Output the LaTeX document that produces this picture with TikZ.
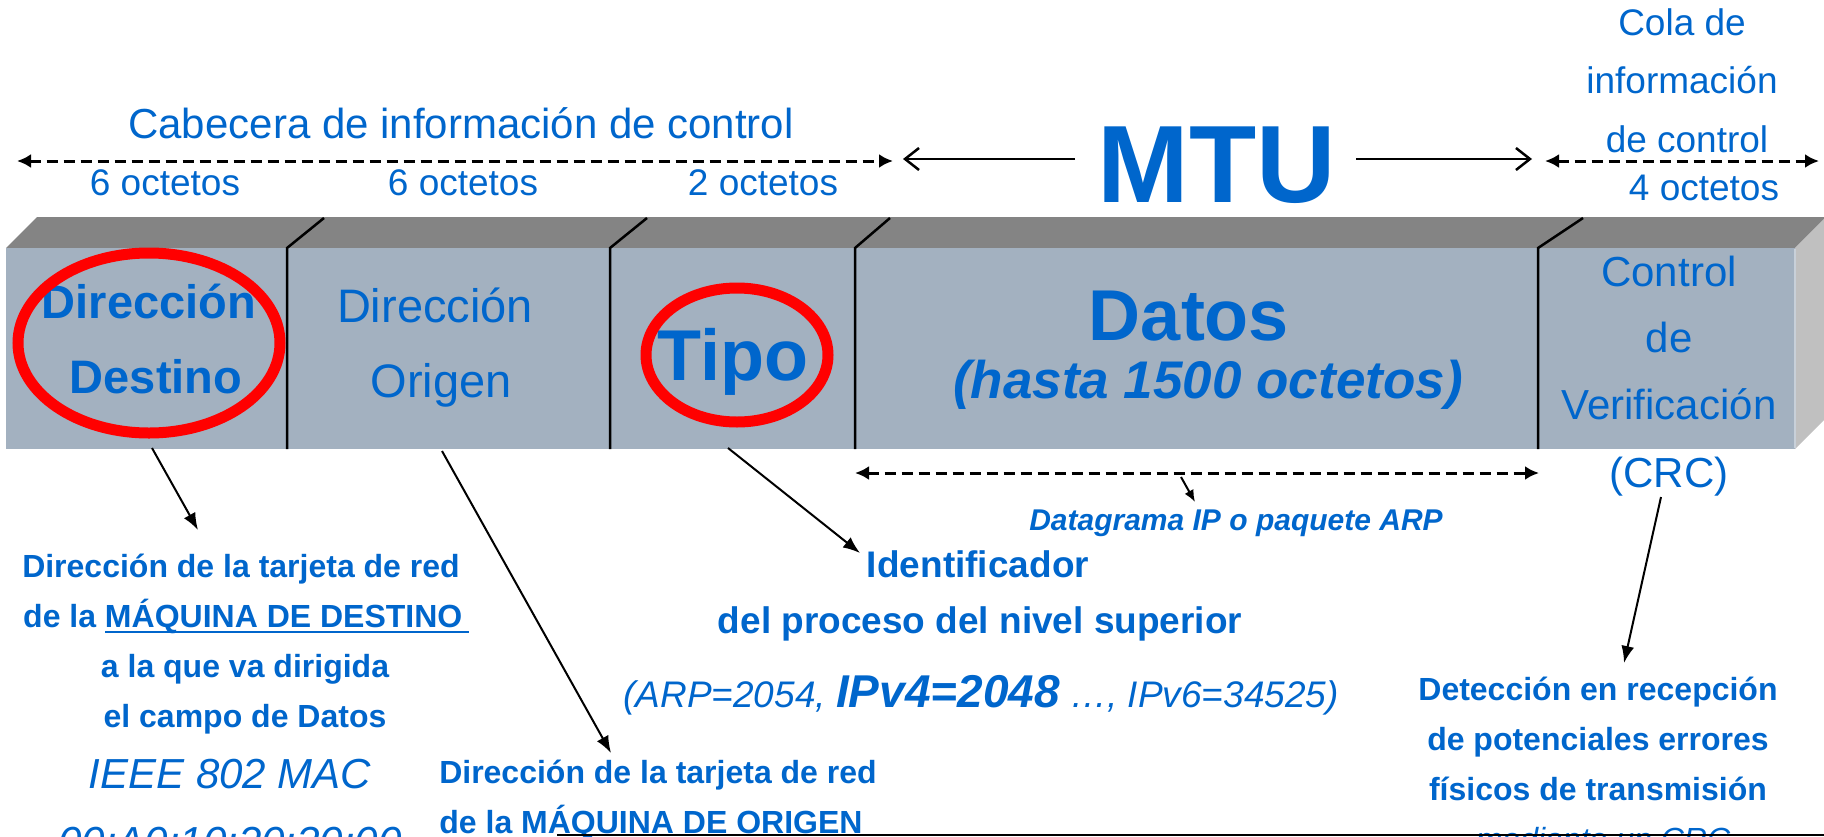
\documentclass[tikz,border=0pt]{standalone}
\usepackage{fontspec}
\setmainfont{Liberation Sans}
\usetikzlibrary{arrows.meta}
\definecolor{tblue}{HTML}{0066CC}
\definecolor{frontf}{HTML}{A3B1C0}
\definecolor{topf}{HTML}{848484}
\definecolor{sidef}{HTML}{C0C0C0}
\newcommand\fsz[1]{\fontsize{#1}{#1}\selectfont}
\begin{document}
\begin{tikzpicture}[x=1pt,y=-1pt,
  txt/.style={text=tblue, inner sep=0pt, anchor=base},
  divl/.style={line width=2.5pt, black},
  redring/.style={draw=red, line width=11pt},
  dasharrow/.style={line width=3pt, dash pattern=on 11pt off 6pt, {Latex[length=14pt,width=14pt]}-{Latex[length=14pt,width=14pt]}},
  ptr/.style={line width=2pt, -{Latex[length=17pt,width=13pt]}},
  mtuarr/.style={line width=2.5pt, -{Straight Barb[length=14pt,width=22pt]}}]
\useasboundingbox (0,0) rectangle (1824,836);
\clip (0,0) rectangle (1824,836);

% 3D bar
\fill[topf] (6,248) -- (37,217) -- (1826,217) -- (1795,248) -- cycle;
\fill[sidef] (1795,248) -- (1826,217) -- (1826,418) -- (1795,449) -- cycle;
\fill[frontf] (6,248) rectangle (1795,449);
\draw[line width=2pt, frontf!60!white] (1795,249) -- (1795,448);

% dividers
\draw[divl] (287,449) -- (287,248) -- (324,218);
\draw[divl] (610,449) -- (610,248) -- (647,218);
\draw[divl] (855,449) -- (855,248) -- (890,218);
\draw[divl] (1538,449) -- (1538,248) -- (1583,218);

% field texts
\node[txt, font=\fsz{47}\bfseries] (dd1) at (149,318) {Dirección};
\node[txt, font=\fsz{47}\bfseries] (dd2) at (156,393) {Destino};
\node[txt, font=\fsz{47}] (do1) at (435,322) {Dirección};
\node[txt, font=\fsz{47}] (do2) at (441,397) {Origen};
\node[txt, font=\fsz{72}\bfseries] (tipo) at (733,380) {Tipo};
\node[txt, font=\fsz{72}\bfseries] (datos) at (1189,340) {Datos};
\node[txt, font=\fsz{53}\bfseries\itshape] (hasta) at (1208,398) {(hasta 1500 octetos)};
\node[txt, font=\fsz{42}] (crc1) at (1669,286) {Control};
\node[txt, font=\fsz{42}] (crc2) at (1669,352) {de};
\node[txt, font=\fsz{42}] (crc3) at (1669,419) {Verificación};
\node[txt, font=\fsz{42}] (crc4) at (1669,487) {(CRC)};

% red rings
\draw[redring] (149,343) ellipse [x radius=131, y radius=90];
\draw[redring] (737,355) ellipse [x radius=91, y radius=67];

% top labels
\node[txt, font=\fsz{42}] (cab) at (461,138) {Cabecera de información de control};
\node[txt, font=\fsz{37}] (o1) at (165,195) {6 octetos};
\node[txt, font=\fsz{37}] (o2) at (463,195) {6 octetos};
\node[txt, font=\fsz{37}] (o3) at (763,195) {2 octetos};
\node[txt, font=\fsz{110}\bfseries] (mtu) at (1217,202) {MTU};
\node[txt, font=\fsz{37}] (cola1) at (1682,35) {Cola de};
\node[txt, font=\fsz{37}] (cola2) at (1682,93) {información};
\node[txt, font=\fsz{37}] (cola3) at (1687,152) {de control};
\node[txt, font=\fsz{37}] (o4) at (1704,200) {4 octetos};

\coordinate (cabL) at (17,161);
\coordinate (cabR) at (893,161);
\coordinate (colL) at (1545,161);
\coordinate (colR) at (1819,161);
\draw[dasharrow] (cabL) -- (cabR);
\draw[dasharrow] (colL) -- (colR);
\coordinate (mtuLs) at (1075,159);
\coordinate (mtuLe) at (903,159);
\coordinate (mtuRs) at (1356,159);
\coordinate (mtuRe) at (1532,159);
\draw[mtuarr] (mtuLs) -- (mtuLe);
\draw[mtuarr] (mtuRs) -- (mtuRe);

% datagrama
\coordinate (dgL) at (855,473);
\coordinate (dgR) at (1539,473);
\draw[dasharrow] (dgL) -- (dgR);
\coordinate (dgS) at (1181,477);
\coordinate (dgE) at (1195,502);
\draw[line width=2pt, -{Latex[length=12pt,width=10pt]}] (dgS) -- (dgE);
\node[txt, font=\fsz{30}\bfseries\itshape] (dgram) at (1236,530) {Datagrama IP o paquete ARP};

% destination block
\node[txt, font=\fsz{32}\bfseries] (dst1) at (241,577) {Dirección de la tarjeta de red};
\node[txt, font=\fsz{32}\bfseries, anchor=base west] (dst2) at (23,627) {de la MÁQUINA DE DESTINO};
\draw[tblue, line width=2pt] (105,632) -- (469,632);
\node[txt, font=\fsz{32}\bfseries] (dst3) at (245,677) {a la que va dirigida};
\node[txt, font=\fsz{32}\bfseries] (dst4) at (245,727) {el campo de Datos};
\node[txt, font=\fsz{42}\itshape] (mac1) at (230,788) {IEEE 802 MAC};
\node[txt, font=\fsz{42}\itshape] (mac2) at (230,856) {00:A0:10:20:30:00};

% origin block
\node[txt, font=\fsz{32}\bfseries] (org1) at (658,783) {Dirección de la tarjeta de red};
\node[txt, font=\fsz{32}\bfseries] (org2) at (651,833) {de la MÁQUINA DE ORIGEN};

% type block
\node[txt, font=\fsz{37}\bfseries] (id1) at (978,577) {Identificador};
\node[txt, font=\fsz{37}\bfseries] (id2) at (980,633) {del proceso del nivel superior};
\node[txt, font=\fsz{37}\itshape] (id3) at (981,707) {(ARP=2054, {\fsz{46}\bfseries IPv4=2048} …, IPv6=34525)};

% CRC block
\node[txt, font=\fsz{32}\bfseries] (det1) at (1598,700) {Detección en recepción};
\node[txt, font=\fsz{32}\bfseries] (det2) at (1598,750) {de potenciales errores};
\node[txt, font=\fsz{32}\bfseries] (det3) at (1598,800) {físicos de transmisión};
\node[txt, font=\fsz{32}\itshape] (det4) at (1603,850) {mediante un CRC};

% pointers
\coordinate (pDs) at (152,448);
\coordinate (pDe) at (198,530);
\coordinate (pOs) at (442,451);
\coordinate (pOe) at (611,753);
\coordinate (pTs) at (728,448);
\coordinate (pTe) at (860,553);
\coordinate (pCs) at (1661,497);
\coordinate (pCe) at (1624,663);
\draw[ptr] (pDs) -- (pDe);
\draw[ptr] (pOs) -- (pOe);
\draw[ptr] (pTs) -- (pTe);
\draw[ptr] (pCs) -- (pCe);

% bottom line
\coordinate (blL) at (557,835);
\coordinate (blR) at (1824,835);
\draw[line width=2.5pt] (blL) -- (blR);
\end{tikzpicture}
\end{document}
